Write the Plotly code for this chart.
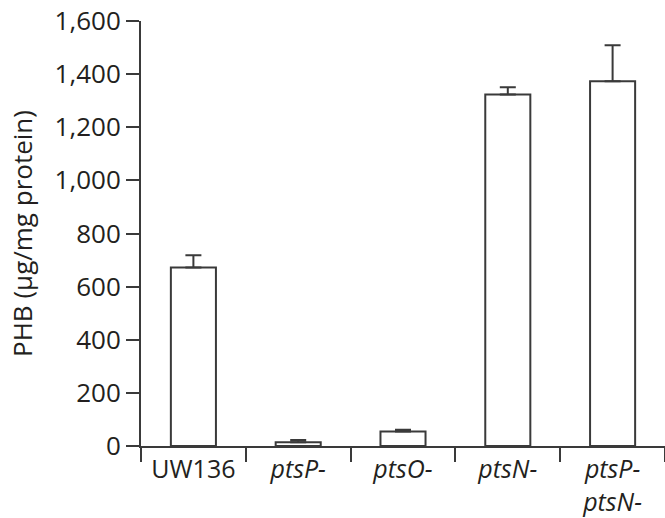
import plotly.graph_objects as go

categories = ["UW136", "<i>ptsP-</i>", "<i>ptsO-</i>", "<i>ptsN-</i>", "<i>ptsP-</i><br><i>ptsN-</i>"]
phb_values = [672, 14, 55, 1323, 1373]
phb_error_up = [46, 9, 6, 28, 136]

y_ticks = [0, 200, 400, 600, 800, 1000, 1200, 1400, 1600]
y_tick_labels = ["0", "200", "400", "600", "800", "1,000", "1,200", "1,400", "1,600"]

line_col = "#3a3a3a"
text_col = "#231f20"
font_fam = "Open Sans"

fig = go.Figure()
fig.add_trace(go.Bar(
    x=categories,
    y=phb_values,
    width=0.43,
    marker=dict(color="white", line=dict(color=line_col, width=2)),
    error_y=dict(type="data", symmetric=False, array=phb_error_up,
                 arrayminus=[0] * len(phb_values),
                 color=line_col, thickness=2, width=8),
))

fig.update_layout(
    width=665, height=518,
    margin=dict(l=141, r=0, t=21, b=72),
    plot_bgcolor="white", paper_bgcolor="white",
    showlegend=False,
    font=dict(family=font_fam, color=text_col, size=24),
    xaxis=dict(
        type="category",
        range=[-0.5, 4.5],
        showline=True, linecolor=line_col, linewidth=2,
        ticks="outside", tickson="boundaries", ticklen=14, tickwidth=2, tickcolor=line_col,
        showgrid=False, zeroline=False,
        tickfont=dict(size=25, family=font_fam, color=text_col),
    ),
    yaxis=dict(
        range=[0, 1600],
        tickvals=y_ticks, ticktext=y_tick_labels,
        showline=True, linecolor=line_col, linewidth=2,
        ticks="outside", ticklen=13, tickwidth=2, tickcolor=line_col,
        showgrid=False, zeroline=False,
        tickfont=dict(size=26, family=font_fam, color=text_col),
        title=dict(text="PHB (µg/mg protein)", standoff=14,
                   font=dict(size=26, family=font_fam, color=text_col)),
    ),
)

fig.write_html("out.html")
